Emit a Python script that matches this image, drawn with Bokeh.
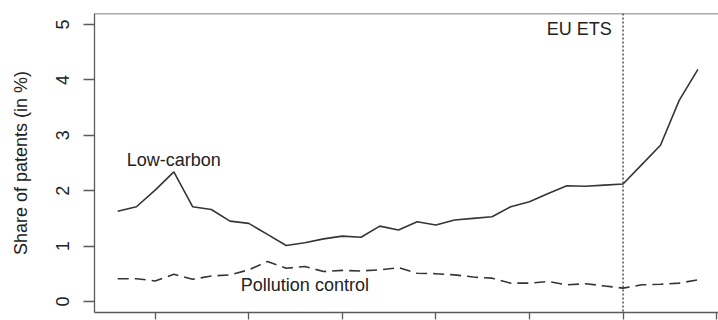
from bokeh.plotting import figure
from bokeh.models import Range1d, LinearAxis, Span, Label, FixedTicker
from bokeh.embed import file_html
from bokeh.resources import INLINE

years = list(range(1978, 2010))
low_carbon = [1.63, 1.71, 2.01, 2.34, 1.71, 1.66, 1.45, 1.41, 1.21, 1.01,
              1.06, 1.13, 1.18, 1.16, 1.36, 1.29, 1.44, 1.38, 1.47, 1.50,
              1.53, 1.71, 1.80, 1.95, 2.09, 2.08, 2.10, 2.12, 2.47, 2.82,
              3.63, 4.19]
pollution_control = [0.41, 0.41, 0.37, 0.49, 0.40, 0.46, 0.48, 0.57, 0.72, 0.60,
                     0.63, 0.54, 0.56, 0.55, 0.57, 0.61, 0.51, 0.50, 0.48, 0.44,
                     0.42, 0.33, 0.33, 0.36, 0.30, 0.32, 0.28, 0.24, 0.30, 0.31,
                     0.33, 0.39]
x_ticks = [1980, 1985, 1990, 1995, 2000, 2005, 2010]
y_ticks = [0, 1, 2, 3, 4, 5]
ets_year = 2005

FONT = "Liberation Sans"
TXT = "#222222"
BOX = "#5a5a5a"
LINE = "#353535"

p = figure(width=718, height=320, output_backend="svg", toolbar_location=None,
           x_range=Range1d(1976.76, 2010.1), y_range=Range1d(-0.2, 5.2),
           x_axis_location=None, y_axis_location=None,
           min_border_left=94, min_border_right=0, min_border_top=13, min_border_bottom=8)
p.outline_line_color = None
p.grid.visible = False
p.background_fill_color = "white"
p.border_fill_color = "white"

# left axis
ya = LinearAxis(ticker=FixedTicker(ticks=y_ticks))
ya.axis_line_color = BOX
ya.axis_line_width = 1.3
ya.major_tick_line_color = BOX
ya.major_tick_line_width = 1.3
ya.major_tick_in = 0
ya.major_tick_out = 11
ya.minor_tick_line_color = None
ya.major_label_orientation = "vertical"
ya.major_label_text_font = FONT
ya.major_label_text_font_size = "18px"
ya.major_label_text_color = TXT
ya.major_label_standoff = 14
ya.axis_label = "Share of patents (in %)"
ya.axis_label_text_font = FONT
ya.axis_label_text_font_size = "18px"
ya.axis_label_text_font_style = "normal"
ya.axis_label_text_color = TXT
ya.axis_label_standoff = 23
p.add_layout(ya, "left")

# bottom axis (its labels fall outside the picture, as in the reference)
xa = LinearAxis(ticker=FixedTicker(ticks=x_ticks))
xa.axis_line_color = BOX
xa.axis_line_width = 1.3
xa.major_tick_line_color = BOX
xa.major_tick_line_width = 1.3
xa.major_tick_in = 0
xa.major_tick_out = 7
xa.minor_tick_line_color = None
xa.major_label_overrides = {t: "" for t in x_ticks}
xa.major_label_standoff = 0
p.add_layout(xa, "below")

# top border of the box
p.add_layout(Span(location=5.2, dimension="width", line_color=BOX, line_width=1.3))

p.line(years, low_carbon, line_color=LINE, line_width=1.6)
p.line(years, pollution_control, line_color=LINE, line_width=1.6, line_dash="11 6")

p.add_layout(Span(location=ets_year, dimension="height", line_color=LINE,
                  line_width=1.3, line_dash="2 2"))

lbl = dict(text_font=FONT, text_font_size="18px", text_color=TXT, text_baseline="middle")
p.add_layout(Label(x=1981.0, y=2.56, text="Low-carbon", text_align="center", **lbl))
p.add_layout(Label(x=1988.0, y=0.29, text="Pollution control", text_align="center", **lbl))
p.add_layout(Label(x=2004.4, y=4.92, text="EU ETS", text_align="right", **lbl))

open("out.html", "w").write(file_html(p, INLINE))
